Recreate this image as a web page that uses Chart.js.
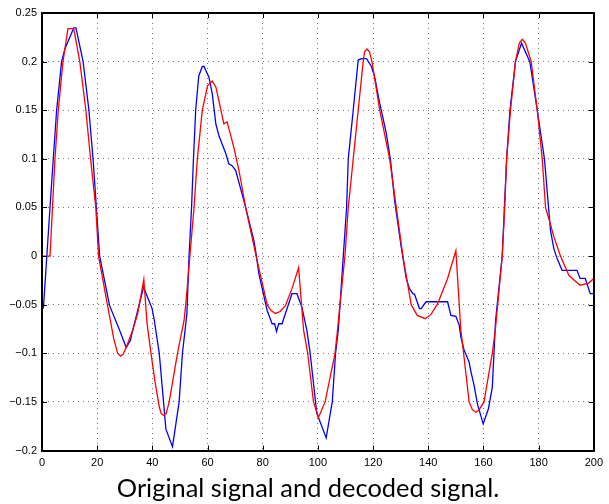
<!DOCTYPE html>
<html lang="en">
<head>
    <meta charset="UTF-8">
    <title>Original signal and decoded signal</title>
    <script src="https://cdn.jsdelivr.net/npm/chart.js"></script>
    <style>
        html, body { margin: 0; padding: 0; background: #fff; }
        #wrap { width: 609px; height: 504px; }
    </style>
</head>
<body>
    <div id="wrap"><canvas id="signalChart" width="609" height="504"></canvas></div>

    <script>
        // axis ticks
        const xTicks = [0, 20, 40, 60, 80, 100, 120, 140, 160, 180, 200];
        const yTicks = [-0.2, -0.15, -0.1, -0.05, 0, 0.05, 0.1, 0.15, 0.2, 0.25];

        // blue signal
        const blueX = [0.5, 2.9, 3.8, 5.3, 7.1, 8.3, 11.5, 12.3, 14.9, 17, 18.5, 19.7, 20.9, 24.5, 28.1, 30.5, 32, 32.9, 34.7, 36.8,
            39.9, 40.7, 42.5, 44.9, 47.3, 49.7, 50.9, 52.5, 53.3, 54.2, 54.9, 55.7, 56.8, 58.1, 58.7, 60.5, 61.7, 63, 64.1, 66.6,
            67.7, 68.9, 70.2, 72.5, 73.8, 76.8, 77.4, 78.6, 79.7, 81.6, 83.4, 84.3, 85, 85.8, 87, 90.6, 92.4, 94.2, 96, 97.2,
            99.6, 100.2, 103, 105.2, 106.4, 107.4, 109.2, 110.4, 111, 112.8, 114.6, 115.8, 117.6, 119.4, 120.6, 122.4, 123.2, 124.8, 126.3, 127.8,
            130.2, 132, 133.2, 134.4, 135, 136.8, 137.4, 139.2, 147, 148.2, 150, 151.2, 151.8, 153, 154.8, 155.4, 156.6, 157.8, 159.9, 161.8,
            163.2, 164.4, 166.8, 168.4, 169.6, 171.6, 173.8, 176.8, 179.5, 182.1, 184.3, 185.5, 186.7, 188.5, 193.9, 195, 196.9, 198.7, 200];
        const blueY = [-0.054, 0.05, 0.088, 0.15, 0.2, 0.213, 0.2346, 0.2346, 0.2, 0.15, 0.1, 0.05, 0, -0.051, -0.076, -0.094, -0.087, -0.076, -0.056, -0.032,
            -0.054, -0.066, -0.1, -0.178, -0.196, -0.15, -0.1, -0.06, 0, 0.05, 0.1, 0.15, 0.185, 0.195, 0.195, 0.184, 0.167, 0.136, 0.124, 0.1055,
            0.095, 0.093, 0.088, 0.064, 0.05, 0.016, 0.006, -0.018, -0.032, -0.056, -0.0696, -0.0696, -0.0775, -0.0696, -0.0696, -0.0387, -0.0387, -0.0525, -0.0765, -0.1,
            -0.162, -0.166, -0.187, -0.15, -0.1, -0.076, 0, 0.05, 0.1, 0.15, 0.2016, 0.203, 0.203, 0.195, 0.184, 0.157, 0.147, 0.126, 0.099, 0.057,
            0.0093, -0.023, -0.0335, -0.0387, -0.039, -0.054, -0.054, -0.047, -0.047, -0.061, -0.062, -0.071, -0.083, -0.097, -0.109, -0.118, -0.133, -0.152, -0.1726, -0.157,
            -0.135, -0.066, 0, 0.1, 0.15, 0.2, 0.219, 0.2, 0.15, 0.1, 0.0265, 0.0077, -0.0026, -0.0147, -0.0147, -0.023, -0.023, -0.0387, -0.0387];

        // red signal
        const redX = [0, 2.9, 4.7, 5.9, 7.6, 9.4, 11.5, 13.7, 15.9, 17.6, 19.5, 20.5, 23.7, 26, 27.4, 28.4, 29.4, 30.5, 32.9, 34.7,
            36.9, 38.1, 39.5, 41, 42.5, 43.2, 44.1, 45, 46.1, 49.1, 51.5, 52.1, 53.6, 55.1, 56.3, 58.1, 60, 61.7, 63, 64.1,
            65.9, 67.1, 69.5, 71.4, 73.8, 77.6, 81.6, 83, 84.6, 86.3, 88.2, 90.6, 93, 94.8, 96.3, 98.4, 100.2, 102.6, 106.2, 107.1,
            108, 109.8, 111, 112.8, 114.6, 116.4, 116.9, 117.8, 118.7, 119.6, 122.4, 126, 128.4, 130.8, 133.8, 136, 138.9, 141, 143.4, 147,
            150, 151.8, 152.8, 154.8, 156, 157.2, 158.4, 160.2, 163.2, 164.3, 166.8, 167.7, 168.4, 169.8, 171.6, 173, 174.1, 175.2, 177.3, 179.5,
            181.3, 182.5, 183.1, 183.7, 185.5, 187.9, 191, 195, 198, 200];
        const redY = [0, 0, 0.1, 0.15, 0.2, 0.234, 0.234, 0.2, 0.15, 0.1, 0.05, 0, -0.05, -0.085, -0.1, -0.103, -0.101, -0.094, -0.076, -0.059,
            -0.024, -0.07, -0.1, -0.13, -0.155, -0.162, -0.164, -0.162, -0.15, -0.1, -0.066, -0.05, 0, 0.05, 0.1, 0.15, 0.175, 0.18, 0.174, 0.16,
            0.136, 0.138, 0.112, 0.088, 0.05, 0, -0.05, -0.056, -0.059, -0.057, -0.051, -0.0335, -0.012, -0.076, -0.1, -0.15, -0.166, -0.15, -0.1, -0.076,
            -0.05, 0, 0.05, 0.1, 0.15, 0.2, 0.21, 0.213, 0.21, 0.2, 0.15, 0.1, 0.05, 0, -0.05, -0.061, -0.0644, -0.06, -0.049, -0.023,
            0.0055, -0.076, -0.1, -0.15, -0.158, -0.1606, -0.158, -0.15, -0.1, -0.076, 0, 0.05, 0.1, 0.15, 0.2, 0.219, 0.223, 0.219, 0.2, 0.15,
            0.1, 0.05, 0.0437, 0.0386, 0.02, 0, -0.02, -0.03, -0.028, -0.023];

        function toPoints(xs, ys) {
            return xs.map((x, i) => ({ x: x, y: ys[i] }));
        }

        function fmtTick(v) {
            const r = Math.round(v * 100) / 100;
            return String(r).replace('-', '\u2212');
        }

        // black box round the axes with small inward ticks, like matlab
        const boxPlugin = {
            id: 'boxPlugin',
            afterDraw(chart) {
                const ctx = chart.ctx;
                const a = chart.chartArea;
                const sx = chart.scales.x, sy = chart.scales.y;
                const len = 5;
                ctx.save();
                ctx.strokeStyle = '#000';
                ctx.lineWidth = 1;
                ctx.beginPath();
                xTicks.forEach(t => {
                    const px = Math.round(sx.getPixelForValue(t)) + 0.5;
                    ctx.moveTo(px, a.bottom); ctx.lineTo(px, a.bottom - len);
                    ctx.moveTo(px, a.top); ctx.lineTo(px, a.top + len);
                });
                yTicks.forEach(t => {
                    const py = Math.round(sy.getPixelForValue(t)) + 0.5;
                    ctx.moveTo(a.left, py); ctx.lineTo(a.left + len, py);
                    ctx.moveTo(a.right, py); ctx.lineTo(a.right - len, py);
                });
                ctx.stroke();
                ctx.lineWidth = 2;
                ctx.strokeRect(Math.round(a.left), Math.round(a.top),
                    Math.round(a.right - a.left), Math.round(a.bottom - a.top));
                ctx.restore();
            }
        };

        const gridOpts = { color: 'rgba(0,0,0,0.55)', lineWidth: 1, drawTicks: false };
        const borderOpts = { display: true, color: '#000', width: 1, dash: [1, 4] };

        const ctx = document.getElementById('signalChart').getContext('2d');
        const signalChart = new Chart(ctx, {
            type: 'line',
            data: {
                datasets: [
                    { label: 'red', data: toPoints(redX, redY), borderColor: '#ff0000', borderWidth: 1.3, pointRadius: 0, fill: false, tension: 0 },
                    { label: 'blue', data: toPoints(blueX, blueY), borderColor: '#0000ff', borderWidth: 1.3, pointRadius: 0, fill: false, tension: 0 }
                ]
            },
            options: {
                responsive: false,
                animation: false,
                // left padding only, the empty right axis keeps the plot off the right edge;
                // this puts the bottom title a bit right of centre like the original
                layout: { padding: { top: 13, right: 0, left: 7, bottom: 0 } },
                scales: {
                    x: {
                        type: 'linear', min: 0, max: 200,
                        afterFit: s => { s.height = 20; },
                        afterBuildTicks: s => { s.ticks = xTicks.map(v => ({ value: v })); },
                        grid: gridOpts, border: borderOpts,
                        ticks: { padding: 6, color: '#000', font: { family: 'Liberation Sans', size: 11 }, callback: fmtTick, maxRotation: 0 }
                    },
                    y: {
                        type: 'linear', min: -0.2, max: 0.25,
                        afterFit: s => { s.width = 35; },
                        afterBuildTicks: s => { s.ticks = yTicks.map(v => ({ value: v })); },
                        grid: gridOpts, border: borderOpts,
                        ticks: { padding: 5, color: '#000', font: { family: 'Liberation Sans', size: 11 }, callback: fmtTick }
                    },
                    yRight: {
                        type: 'linear', position: 'right', min: -0.2, max: 0.25,
                        afterFit: s => { s.width = 12; },
                        grid: { display: false, drawTicks: false },
                        border: { display: false },
                        ticks: { display: false }
                    }
                },
                plugins: {
                    legend: { display: false },
                    tooltip: { enabled: false },
                    title: {
                        display: true, position: 'bottom', text: 'Original signal and decoded signal.',
                        color: '#000', font: { family: 'Lato', size: 25.4, weight: 'normal' },
                        padding: { top: 3, bottom: 0 }
                    }
                }
            },
            plugins: [boxPlugin]
        });
    </script>
</body>
</html>
